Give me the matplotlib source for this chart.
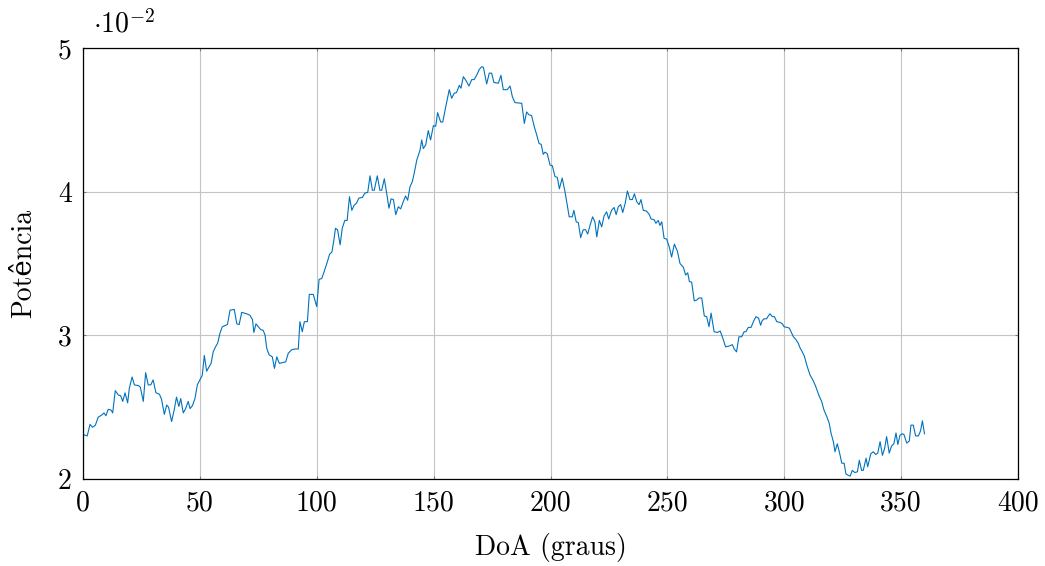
import numpy as np
import matplotlib
matplotlib.use("Agg")
import matplotlib.pyplot as plt

# Direction of arrival (degrees) and received power (in units of 1e-2)
doa = [
    0, 1.8, 3, 4.1, 5.3, 6.5, 8, 9, 9.8, 10.8, 12, 12.7, 13.8, 15.1, 16.1, 17, 18, 19.1, 19.8, 21,
    22, 23.7, 24.5, 25.8, 26.8, 27.9, 29, 30, 31.2, 32.7, 33.6, 34.8, 35.8, 36.6, 37.9, 39, 40, 41,
    41.8, 42.9, 43.9, 45, 45.8, 46.8, 47.9, 48.9, 50, 51, 51.9, 52.9, 53.9, 54.8, 55.7, 56.7, 57.6,
    58.6, 59.6, 61, 61.8, 62.9, 64.7, 65.8, 66.8, 67.9, 70, 71.4, 72.5, 73.1, 74, 75, 76, 77.1, 77.9,
    78.6, 79.6, 81, 81.9, 82.9, 84, 85.3, 86.7, 87.8, 89.3, 90.7, 92.1, 92.8, 93.8, 94.7, 96, 96.8,
    98.5, 100, 101, 102.1, 103.1, 104.5, 105.5, 106.5, 107.3, 108, 108.9, 110, 110.9, 112, 113, 114,
    115, 116, 117, 118, 119.5, 120.6, 121.8, 122.8, 123.8, 124.6, 125.9, 127, 127.8, 128.9, 129.9,
    130.9, 131.8, 132.8, 133.8, 134.9, 135.9, 137, 138, 138.9, 139.9, 140.9, 141.7, 142.8, 144.2,
    144.9, 145.6, 146.6, 147.7, 148.7, 149.9, 150.9, 151.7, 153, 153.9, 155.3, 156.7, 157.7, 158.8,
    159.8, 161, 161.7, 162.7, 163.8, 165.1, 166.3, 167.3, 168.4, 169.5, 170.6, 171.3, 172.7, 173.8,
    174.8, 175.8, 177.7, 178.8, 179.8, 181.5, 182.7, 183.7, 184.8, 187.7, 188.8, 189.8, 190.8, 191.9,
    193.1, 194.1, 195.1, 196, 196.9, 197.6, 198.6, 199.8, 200.8, 201.9, 202.9, 203.8, 205, 206.2,
    208, 209.3, 210, 211, 211.9, 212.9, 214, 215, 215.9, 217, 218, 219, 219.8, 220.9, 221.9, 222.9,
    224, 224.9, 226.1, 227.2, 228.1, 229, 230, 230.9, 231.9, 232.9, 234, 235, 235.9, 236.9, 237.9,
    238.7, 239.7, 241.1, 242.3, 243, 244.3, 245.1, 246.1, 246.8, 247.6, 248.6, 249.7, 250.8, 251.8,
    253, 254.3, 255.4, 256.8, 257.8, 258.7, 259.4, 260.4, 261.5, 262.5, 263.5, 264.7, 265.8, 266.8,
    267.8, 268.7, 270, 271.4, 272.6, 273.5, 274.9, 276.3, 277.8, 278.6, 279.6, 280.6, 281.8, 282.8,
    283.6, 284.6, 285.8, 286.8, 287.9, 289, 289.9, 290.5, 291.3, 292.4, 293.2, 293.9, 294.9, 295.8,
    296.8, 298.2, 299.2, 299.9, 301.3, 302.2, 303.2, 303.9, 305, 306, 306.7, 307.7, 308.6, 309.6,
    310.3, 311, 312.2, 313.2, 314.2, 315, 316, 317, 318.2, 319.2, 320, 321, 321.7, 322.7, 323.9,
    324.6, 325.6, 326.4, 327.5, 328.2, 329.1, 330.2, 331.3, 332.1, 333.1, 333.8, 335, 335.7, 337,
    338.1, 339.1, 340, 341, 342, 342.9, 343.8, 344.9, 345.9, 346.9, 347.8, 348.6, 349.5, 350.5,
    351.2, 352.4, 353.5, 354.2, 355.2, 356.2, 357.4, 358.3, 359.1, 360,
]
power_e2 = [
    2.31, 2.30, 2.38, 2.36, 2.375, 2.43, 2.445, 2.46, 2.44, 2.485, 2.48, 2.46, 2.615, 2.585, 2.58,
    2.54, 2.60, 2.53, 2.63, 2.71, 2.655, 2.65, 2.64, 2.54, 2.74, 2.655, 2.655, 2.69, 2.60, 2.59,
    2.555, 2.45, 2.515, 2.50, 2.40, 2.48, 2.57, 2.505, 2.56, 2.46, 2.49, 2.54, 2.49, 2.51, 2.56,
    2.655, 2.69, 2.72, 2.86, 2.75, 2.78, 2.805, 2.885, 2.92, 2.945, 3.015, 3.06, 3.07, 3.075, 3.175,
    3.18, 3.08, 3.075, 3.16, 3.15, 3.14, 3.11, 3.02, 3.08, 3.06, 3.04, 3.035, 3.0, 2.91, 2.865, 2.85,
    2.77, 2.85, 2.805, 2.81, 2.815, 2.875, 2.90, 2.905, 2.905, 3.095, 3.025, 3.095, 3.095, 3.285,
    3.285, 3.20, 3.39, 3.395, 3.44, 3.51, 3.565, 3.58, 3.66, 3.745, 3.735, 3.63, 3.745, 3.80, 3.80,
    3.965, 3.87, 3.905, 3.92, 3.955, 3.96, 3.99, 3.995, 4.11, 4.01, 4.01, 4.11, 4.01, 4.01, 4.09,
    3.99, 3.885, 3.95, 3.945, 3.84, 3.895, 3.88, 3.93, 3.97, 3.94, 4.035, 4.07, 4.13, 4.22, 4.29,
    4.36, 4.30, 4.325, 4.425, 4.36, 4.46, 4.455, 4.55, 4.485, 4.485, 4.60, 4.71, 4.65, 4.685, 4.69,
    4.74, 4.72, 4.80, 4.775, 4.735, 4.78, 4.78, 4.81, 4.85, 4.87, 4.865, 4.75, 4.825, 4.825, 4.76,
    4.755, 4.81, 4.71, 4.71, 4.735, 4.66, 4.62, 4.615, 4.475, 4.555, 4.535, 4.53, 4.45, 4.395, 4.335,
    4.33, 4.26, 4.275, 4.265, 4.185, 4.18, 4.105, 4.10, 4.02, 4.095, 4.00, 3.825, 3.825, 3.87, 3.79,
    3.785, 3.68, 3.735, 3.735, 3.705, 3.77, 3.825, 3.79, 3.685, 3.80, 3.755, 3.83, 3.86, 3.81, 3.87,
    3.89, 3.84, 3.895, 3.91, 3.855, 3.915, 4.005, 3.945, 3.945, 3.985, 3.93, 3.91, 3.945, 3.87,
    3.865, 3.84, 3.81, 3.805, 3.78, 3.80, 3.765, 3.79, 3.675, 3.67, 3.615, 3.545, 3.635, 3.585,
    3.50, 3.475, 3.42, 3.435, 3.375, 3.37, 3.24, 3.245, 3.26, 3.26, 3.135, 3.13, 3.06, 3.155, 3.025,
    3.02, 3.03, 2.99, 2.92, 2.925, 2.935, 2.905, 2.885, 2.99, 2.99, 3.025, 3.025, 3.055, 3.055,
    3.095, 3.13, 3.12, 3.07, 3.10, 3.115, 3.115, 3.135, 3.15, 3.13, 3.13, 3.095, 3.09, 3.08, 3.06,
    3.055, 3.05, 3.015, 2.99, 2.97, 2.945, 2.915, 2.885, 2.855, 2.795, 2.76, 2.725, 2.69, 2.655,
    2.61, 2.575, 2.54, 2.48, 2.435, 2.39, 2.32, 2.26, 2.19, 2.245, 2.165, 2.11, 2.11, 2.035, 2.025,
    2.02, 2.06, 2.045, 2.05, 2.13, 2.06, 2.06, 2.145, 2.085, 2.175, 2.19, 2.17, 2.18, 2.26, 2.165,
    2.21, 2.295, 2.18, 2.23, 2.245, 2.32, 2.24, 2.305, 2.315, 2.31, 2.25, 2.265, 2.375, 2.375, 2.30,
    2.30, 2.335, 2.405, 2.315,
]

x_ticks = [0, 50, 100, 150, 200, 250, 300, 350, 400]
y_ticks = [2, 3, 4, 5]
x_label = "DoA (graus)"
y_label = "Potência"

plt.rcParams["font.family"] = ["cmr10", "DejaVu Serif"]
plt.rcParams["mathtext.fontset"] = "cm"
plt.rcParams["axes.formatter.use_mathtext"] = True

fig = plt.figure(figsize=(10.45, 5.66), dpi=100)
ax = fig.add_axes([83 / 1045, 87 / 566, 935 / 1045, 431 / 566])

ax.plot(doa, power_e2, color="#0072BD", linewidth=0.8, zorder=3)

ax.set_xlim(0, 400)
ax.set_ylim(2, 5)
ax.set_xticks(x_ticks)
ax.set_yticks(y_ticks)
ax.set_xticklabels([str(t) for t in x_ticks])
ax.set_yticklabels([str(t) for t in y_ticks])

ax.grid(True, color="#c4c4c4", linewidth=0.8, zorder=0)
ax.tick_params(direction="in", length=2.5, width=0.8, color="#808080",
               top=True, right=True, labelsize=20, pad=8)
for s in ax.spines.values():
    s.set_linewidth(0.9)
    s.set_zorder(4)

ax.set_xlabel(x_label, fontsize=20, labelpad=12)
ax.set_ylabel(y_label, fontsize=20, labelpad=15)

# Scale factor of the power axis
ax.text(0.011, 1.035, r"$\cdot10^{-2}$", transform=ax.transAxes,
        fontsize=20, ha="left", va="baseline")

fig.savefig("out.png", dpi=100)
